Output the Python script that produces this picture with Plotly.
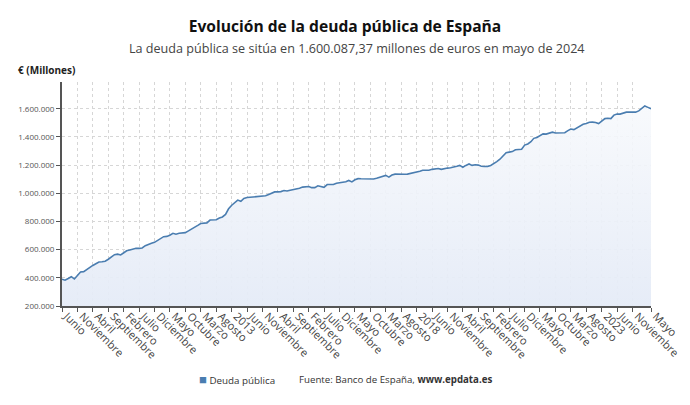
import plotly.graph_objects as go
import pandas as pd

# Monthly public debt (millions of euros), June 2008 - May 2024
y2008 = [390000, 383000, 395000, 408000, 392000, 420000, 442000]  # Jun-Dec
y2009 = [444000, 460000, 476000, 488000, 500000, 512000, 514000, 518000, 532000, 545000, 564000, 568000]
y2010 = [562000, 578000, 592000, 598000, 606000, 610000, 609000, 612000, 628000, 638000, 646000, 652000]
y2011 = [666000, 682000, 692000, 694000, 702000, 716000, 710000, 716000, 721000, 721000, 733000, 744000]
y2012 = [760000, 772000, 785000, 786000, 790000, 810000, 811000, 812000, 825000, 832000, 850000, 890000]
y2013 = [915000, 935000, 952000, 943000, 964000, 970000, 972000, 972000, 976000, 977000, 977000, 982000]
y2014 = [992000, 1001000, 1010000, 1010000, 1012000, 1020000, 1016000, 1022000, 1025000, 1029000, 1036000, 1044000]
y2015 = [1046000, 1048000, 1040000, 1040000, 1053000, 1046000, 1042000, 1062000, 1062000, 1062000, 1072000, 1074000]
y2016 = [1077000, 1082000, 1091000, 1081000, 1096000, 1104000, 1103000, 1103000, 1104000, 1100000, 1101000, 1107000]
y2017 = [1115000, 1122000, 1127000, 1115000, 1130000, 1136000, 1134000, 1136000, 1135000, 1136000, 1140000, 1145000]
y2018 = [1150000, 1157000, 1164000, 1162000, 1164000, 1170000, 1172000, 1176000, 1170000, 1176000, 1179000, 1181000]
y2019 = [1184000, 1192000, 1198000, 1185000, 1198000, 1208000, 1198000, 1203000, 1200000, 1192000, 1190000, 1191000]
y2020 = [1198000, 1210000, 1225000, 1242000, 1262000, 1288000, 1292000, 1296000, 1309000, 1309000, 1312000, 1342000]
y2021 = [1350000, 1366000, 1390000, 1396000, 1410000, 1422000, 1420000, 1427000, 1434000, 1428000, 1427000, 1427000]
y2022 = [1430000, 1445000, 1456000, 1452000, 1464000, 1481000, 1490000, 1495000, 1504000, 1505000, 1503000, 1495000]
y2023 = [1515000, 1530000, 1533000, 1530000, 1555000, 1563000, 1562000, 1570000, 1576000, 1576000, 1574000, 1576000]
y2024 = [1585000, 1605000, 1620000, 1610000, 1600087.37]  # Jan-May

values = (y2008 + y2009 + y2010 + y2011 + y2012 + y2013 + y2014 + y2015 + y2016
          + y2017 + y2018 + y2019 + y2020 + y2021 + y2022 + y2023 + y2024)
dates = pd.date_range("2008-06-01", periods=len(values), freq="MS")

tick_dates = ["2008-06-01", "2008-11-01", "2009-04-01", "2009-09-01", "2010-02-01",
              "2010-07-01", "2010-12-01", "2011-05-01", "2011-10-01", "2012-03-01",
              "2012-08-01", "2013-01-01", "2013-06-01", "2013-11-01", "2014-04-01",
              "2014-09-01", "2015-02-01", "2015-07-01", "2015-12-01", "2016-05-01",
              "2016-10-01", "2017-03-01", "2017-08-01", "2018-01-01", "2018-06-01",
              "2018-11-01", "2019-04-01", "2019-09-01", "2020-02-01", "2020-07-01",
              "2020-12-01", "2021-05-01", "2021-10-01", "2022-03-01", "2022-08-01",
              "2023-01-01", "2023-06-01", "2023-11-01", "2024-05-01"]
tick_labels = ["Junio", "Noviembre", "Abril", "Septiembre", "Febrero",
               "Julio", "Diciembre", "Mayo", "Octubre", "Marzo",
               "Agosto", "2013", "Junio", "Noviembre", "Abril",
               "Septiembre", "Febrero", "Julio", "Diciembre", "Mayo",
               "Octubre", "Marzo", "Agosto", "2018", "Junio",
               "Noviembre", "Abril", "Septiembre", "Febrero", "Julio",
               "Diciembre", "Mayo", "Octubre", "Marzo", "Agosto",
               "2023", "Junio", "Noviembre", "Mayo"]
y_ticks = [200000, 400000, 600000, 800000, 1000000, 1200000, 1400000, 1600000]

line_color = "#4a7db0"
FONT = "Open Sans"
W, H = 690, 405
ML, MR, MT, MB = 62, 39, 82, 99
PW, PH = W - ML - MR, H - MT - MB


def px_x(x):
    return (x - ML) / PW


def px_y(y):
    return (H - MB - y) / PH


fig = go.Figure()
fig.add_trace(go.Scatter(
    x=dates, y=values, mode="lines", name="Deuda pública",
    line=dict(color=line_color, width=1.6),
    fill="tozeroy",
    fillgradient=dict(type="vertical",
                      colorscale=[[0, "rgba(226,233,246,0.95)"], [1, "rgba(247,249,252,0.9)"]]),
    showlegend=False,
    hovertemplate="%{x|%b %Y}: %{y:,.2f}<extra></extra>",
))

fig.update_layout(
    width=W, height=H,
    margin=dict(l=ML, r=MR, t=MT, b=MB, autoexpand=False),
    paper_bgcolor="white", plot_bgcolor="white",
    separators=",.",
    font=dict(family=FONT, color="#333333"),
    title=dict(text="<b>Evolución de la deuda pública de España</b>",
               x=0.5, xanchor="center", y=1 - 27 / H, yanchor="middle",
               font=dict(size=15.6, color="#111111", family=FONT)),
    xaxis=dict(
        type="date", automargin=False,
        range=[dates[0], dates[-1]],
        tickmode="array", tickvals=tick_dates, ticktext=tick_labels,
        tickangle=45, tickfont=dict(size=11, color="#444444"),
        ticklabelshift=5, ticklabelstandoff=-6,
        showgrid=True, gridcolor="#d6d6d6", griddash="dot", gridwidth=1,
        showline=True, linecolor="#555555", linewidth=1.5,
        ticks="outside", ticklen=4, tickcolor="#555555",
        zeroline=False, fixedrange=True,
    ),
    yaxis=dict(
        range=[200000, 1790000], automargin=False,
        tickmode="array", tickvals=y_ticks, tickformat=",.0f",
        tickfont=dict(size=8, color="#555555"),
        showgrid=True, gridcolor="#d6d6d6", griddash="dot", gridwidth=1,
        showline=True, linecolor="#555555", linewidth=2,
        ticks="outside", ticklen=4, tickcolor="#555555",
        zeroline=False, fixedrange=True,
    ),
    annotations=[
        dict(text="La deuda pública se sitúa en 1.600.087,37 millones de euros en mayo de 2024",
             x=0.5, y=px_y(48), xref="paper", yref="paper", showarrow=False,
             font=dict(size=12.6, color="#444444", family=FONT), xanchor="center", yanchor="middle"),
        dict(text="<b>€ (Millones)</b>", x=px_x(16), y=px_y(70), xref="paper", yref="paper",
             showarrow=False, font=dict(size=10, color="#222222", family=FONT),
             xanchor="left", yanchor="middle"),
        dict(text=f"<span style='color:{line_color};font-size:13px'>■</span> Deuda pública",
             x=px_x(197), y=px_y(379), xref="paper", yref="paper", showarrow=False,
             font=dict(size=9.8, color="#333333", family=FONT), xanchor="left", yanchor="middle"),
        dict(text="Fuente: Banco de España, <b>www.epdata.es</b>",
             x=px_x(297), y=px_y(379), xref="paper", yref="paper", showarrow=False,
             font=dict(size=9.7, color="#333333", family=FONT), xanchor="left", yanchor="middle"),
    ],
)

fig.write_html("out.html", config={"displayModeBar": False},
               post_script="document.body.style.margin='0px';")
